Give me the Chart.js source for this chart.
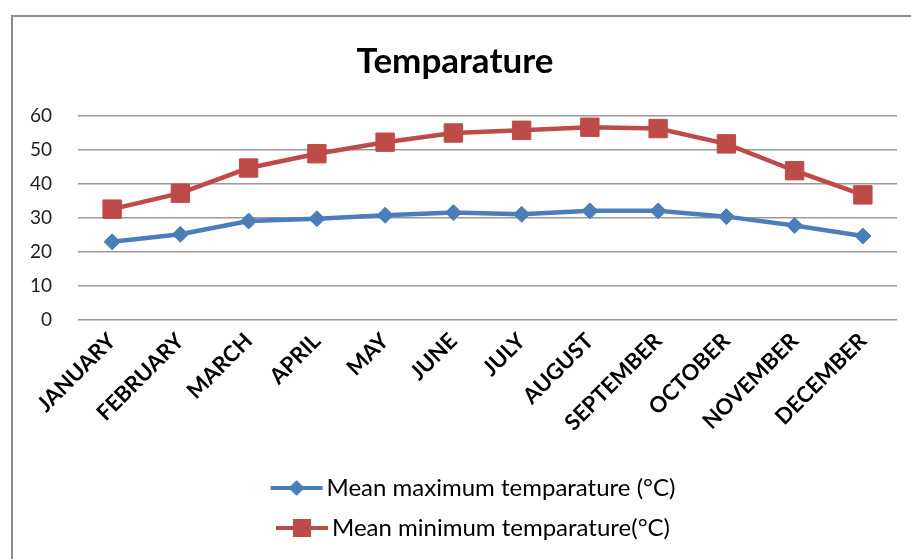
<!DOCTYPE html>
<html>
<head>
<meta charset="utf-8">
<script src="https://cdn.jsdelivr.net/npm/chart.js@4/dist/chart.umd.min.js"></script>
<style>
  html, body { margin: 0; padding: 0; background: #fff; }
  #frame {
    position: absolute; left: 11px; top: 15px;
    width: 898px; height: 542px;
    border-left: 2px solid #8c8c8c; border-top: 2px solid #8c8c8c;
  }
  #chart { display: block; }
</style>
</head>
<body>
<div id="frame"><canvas id="chart" width="898" height="542"></canvas></div>
<script>
const months = ['JANUARY', 'FEBRUARY', 'MARCH', 'APRIL', 'MAY', 'JUNE', 'JULY',
    'AUGUST', 'SEPTEMBER', 'OCTOBER', 'NOVEMBER', 'DECEMBER'];
const meanMax = [23.0, 25.2, 29.1, 29.8, 30.8, 31.6, 31.1, 32.1, 32.1, 30.4, 27.8, 24.7];
const meanMin = [32.6, 37.3, 44.7, 48.9, 52.3, 55.0, 55.8, 56.7, 56.3, 51.8, 43.9, 36.8];
const yMin = 0, yMax = 60, yStep = 10;

const blue = '#4a7ebb';
const red = '#be4b48';

// legend glyph: line with the marker in the middle.
// canvas is wider than the legend box so the line runs up to the text,
// and its left part stays empty so the two entries wrap onto two rows
function legendGlyph(color, style) {
    const c = document.createElement('canvas');
    c.width = 100; c.height = 24;
    const g = c.getContext('2d');
    const x0 = 46, x1 = 98, mid = 72;
    g.strokeStyle = color;
    g.lineWidth = 4;
    g.beginPath(); g.moveTo(x0, 12); g.lineTo(x1, 12); g.stroke();
    g.fillStyle = color;
    if (style === 'rect') {
        g.fillRect(mid - 9, 3, 18, 18);
    } else {
        g.beginPath();
        g.moveTo(mid, 4); g.lineTo(mid + 8, 12); g.lineTo(mid, 20); g.lineTo(mid - 8, 12);
        g.closePath(); g.fill();
    }
    return c;
}

const ctx = document.getElementById('chart').getContext('2d');
const chart = new Chart(ctx, {
    type: 'line',
    data: {
        labels: months,
        datasets: [{
            label: 'Mean maximum temparature (°C)',
            data: meanMax,
            borderColor: blue,
            backgroundColor: blue,
            borderWidth: 4.5,
            pointStyle: 'rectRot',
            pointRadius: 8,
            pointBorderWidth: 1,
            tension: 0
        }, {
            label: 'Mean minimum temparature(°C)',
            data: meanMin,
            borderColor: red,
            backgroundColor: red,
            borderWidth: 4.5,
            pointStyle: 'rect',
            pointRadius: 13,
            pointBorderWidth: 1,
            tension: 0
        }]
    },
    options: {
        responsive: false,
        animation: false,
        layout: { padding: { left: 0, right: 14, top: 0, bottom: 9 } },
        plugins: {
            title: {
                display: true,
                text: 'Temparature',
                color: '#000',
                font: { family: 'Lato', size: 35, weight: 'bold' },
                padding: { top: 24, bottom: 33 }
            },
            legend: {
                position: 'bottom',
                labels: {
                    color: '#000',
                    font: { family: 'Lato', size: 24 },
                    padding: 16,
                    usePointStyle: true,
                    pointStyleWidth: 80,
                    generateLabels: function(ch) {
                        return ch.data.datasets.map(function(ds, i) {
                            return {
                                text: ds.label,
                                pointStyle: legendGlyph(ds.borderColor, ds.pointStyle),
                                fillStyle: ds.borderColor,
                                strokeStyle: ds.borderColor,
                                lineWidth: 0,
                                datasetIndex: i,
                                hidden: false
                            };
                        });
                    }
                }
            },
            tooltip: { enabled: false }
        },
        scales: {
            x: {
                offset: true,
                grid: { display: false, drawTicks: false },
                border: { display: false },
                ticks: {
                    color: '#000',
                    font: { family: 'Lato', size: 22, weight: 'bold' },
                    minRotation: 45,
                    maxRotation: 45,
                    autoSkip: false,
                    padding: 8
                },
                afterFit: function(s) { s.height = 140; }
            },
            y: {
                min: yMin,
                max: yMax,
                grid: { color: '#9a9a9a', lineWidth: 1.5, drawTicks: false },
                border: { display: false },
                ticks: {
                    stepSize: yStep,
                    color: '#222',
                    font: { family: 'Lato', size: 19 },
                    padding: 26
                },
                afterFit: function(s) { s.width = 65; }
            }
        }
    }
});
</script>
</body>
</html>
